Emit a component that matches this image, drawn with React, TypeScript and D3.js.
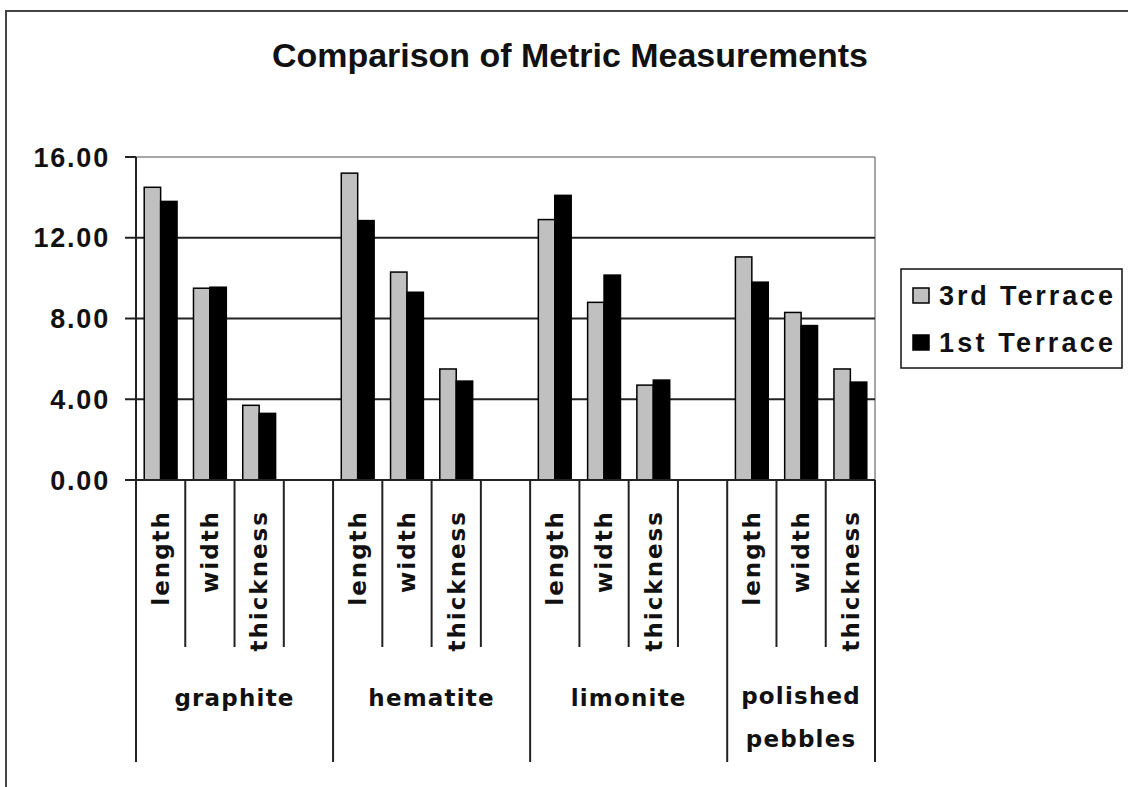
import React from "react";
import * as d3 from "d3";

const title = "Comparison of Metric Measurements";
const groups = ["graphite", "hematite", "limonite", "polished pebbles"];
const measures = ["length", "width", "thickness"];
const seriesNames = ["3rd Terrace", "1st Terrace"];
const thirdTerrace = [14.5, 9.5, 3.7, 15.2, 10.3, 5.5, 12.9, 8.8, 4.7, 11.05, 8.3, 5.5];
const firstTerrace = [13.8, 9.55, 3.3, 12.85, 9.3, 4.9, 14.1, 10.15, 4.95, 9.8, 7.65, 4.85];
const yTicks = [0, 4, 8, 12, 16];

const W = 1128;
const H = 787;
const plot = { left: 136, right: 875, top: 157, bottom: 480 };
const seriesColors = ["#c0c0c0", "#000000"];

// slot keys: each group has 3 measures + a blank slot (except last group)
const slots: { key: string; group: number; measure: number | null }[] = [];
groups.forEach((g, gi) => {
  measures.forEach((m, mi) => slots.push({ key: `${gi}-${mi}`, group: gi, measure: mi }));
  if (gi < groups.length - 1) slots.push({ key: `${gi}-blank`, group: gi, measure: null });
});

export default function App() {
  const x = d3
    .scaleBand<string>()
    .domain(slots.map((s) => s.key))
    .range([plot.left, plot.right])
    .paddingInner(0)
    .paddingOuter(0);
  const step = x.step();
  const inner = d3
    .scaleBand<string>()
    .domain(seriesNames)
    .range([0, step])
    .paddingInner(0)
    .paddingOuter(0.5);
  const y = d3.scaleLinear().domain([0, 16]).range([plot.bottom, plot.top]);

  const bars: { x: number; y: number; w: number; h: number; fill: string }[] = [];
  slots.forEach((s) => {
    if (s.measure === null) return;
    const idx = s.group * 3 + s.measure;
    [thirdTerrace, firstTerrace].forEach((arr, si) => {
      const v = arr[idx];
      bars.push({
        x: (x(s.key) as number) + (inner(seriesNames[si]) as number),
        y: y(v),
        w: inner.bandwidth(),
        h: y(0) - y(v),
        fill: seriesColors[si],
      });
    });
  });

  const groupEdges: number[] = [];
  const slotEdges: number[] = [];
  slots.forEach((s, i) => {
    const left = x(s.key) as number;
    if (i === 0) return;
    const prev = slots[i - 1];
    if (prev.group !== s.group) groupEdges.push(left);
    else slotEdges.push(left);
  });
  groupEdges.unshift(plot.left);
  groupEdges.push(plot.right);

  const groupCenters = groups.map((g, gi) => {
    const gs = slots.filter((s) => s.group === gi);
    const l = x(gs[0].key) as number;
    const r = (x(gs[gs.length - 1].key) as number) + step;
    return (l + r) / 2;
  });

  const arial = "'Liberation Sans', Arial, sans-serif";
  const dejavu = "'DejaVu Sans', Verdana, sans-serif";

  return (
    <svg
      width={W}
      height={H}
      style={{ position: "absolute", left: 0, top: 0, background: "#fff" }}
    >
      <rect x={0} y={0} width={W} height={H} fill="#fff" />
      <line x1={5} x2={W} y1={11} y2={11} stroke="#444" strokeWidth={2} />
      <line x1={6} x2={6} y1={11} y2={H} stroke="#444" strokeWidth={2} />

      <text
        x={272}
        y={67}
        fontFamily={arial}
        fontWeight="bold"
        fontSize={34}
        textLength={596}
        lengthAdjust="spacingAndGlyphs"
        fill="#111"
      >
        {title}
      </text>

      <line x1={plot.left} x2={plot.right} y1={plot.top} y2={plot.top} stroke="#888" strokeWidth={1.5} />
      <line x1={plot.right} x2={plot.right} y1={plot.top} y2={plot.bottom} stroke="#888" strokeWidth={1.5} />

      {yTicks
        .filter((t) => t > 0 && t < 16)
        .map((t) => (
          <line key={t} x1={plot.left} x2={plot.right} y1={y(t)} y2={y(t)} stroke="#222" strokeWidth={2} />
        ))}

      {bars.map((b, i) => (
        <rect key={i} x={b.x} y={b.y} width={b.w} height={b.h} fill={b.fill} stroke="#000" strokeWidth={1.5} />
      ))}

      <line x1={plot.left - 11} x2={plot.right} y1={plot.bottom} y2={plot.bottom} stroke="#222" strokeWidth={2} />
      <line x1={plot.left} x2={plot.left} y1={plot.top} y2={plot.bottom} stroke="#222" strokeWidth={2} />
      {yTicks.map((t) => (
        <g key={t}>
          <line x1={plot.left - 11} x2={plot.left} y1={y(t)} y2={y(t)} stroke="#222" strokeWidth={2} />
          <text
            x={110}
            y={y(t)}
            dy="0.36em"
            textAnchor="end"
            fontFamily={arial}
            fontWeight="bold"
            fontSize={27}
            fill="#111"
            style={{ letterSpacing: "1.8px" }}
          >
            {d3.format(".2f")(t)}
          </text>
        </g>
      ))}

      {slotEdges.map((e, i) => (
        <line key={"s" + i} x1={e} x2={e} y1={plot.bottom} y2={647} stroke="#222" strokeWidth={2} />
      ))}
      {groupEdges.map((e, i) => (
        <line key={"g" + i} x1={e} x2={e} y1={plot.bottom} y2={762} stroke="#222" strokeWidth={2} />
      ))}

      {slots
        .filter((s) => s.measure !== null)
        .map((s) => {
          const cx = (x(s.key) as number) + step / 2;
          return (
            <text
              key={"l" + s.key}
              transform={`translate(${cx},510) rotate(-90)`}
              dy="0.36em"
              textAnchor="end"
              fontFamily={dejavu}
              fontWeight="bold"
              fontSize={23}
              fill="#111"
              style={{ letterSpacing: "2px" }}
            >
              {measures[s.measure as number]}
            </text>
          );
        })}

      {groups.map((g, gi) => {
        const words = g.split(" ");
        if (words.length === 1) {
          return (
            <text
              key={g}
              x={groupCenters[gi]}
              y={706}
              textAnchor="middle"
              fontFamily={dejavu}
              fontWeight="bold"
              fontSize={23}
              fill="#111"
              style={{ letterSpacing: "1.2px" }}
            >
              {g}
            </text>
          );
        }
        return (
          <text
            key={g}
            textAnchor="middle"
            fontFamily={dejavu}
            fontWeight="bold"
            fontSize={23}
            fill="#111"
            style={{ letterSpacing: "1.2px" }}
          >
            {words.map((w, wi) => (
              <tspan key={w} x={groupCenters[gi]} y={704 + wi * 43}>
                {w}
              </tspan>
            ))}
          </text>
        );
      })}

      <rect x={901} y={269} width={221} height={99} fill="#fff" stroke="#111" strokeWidth={1.5} />
      {seriesNames.map((n, i) => (
        <g key={n}>
          <rect x={913} y={288 + i * 47} width={16} height={15} fill={seriesColors[i]} stroke="#000" strokeWidth={1.5} />
          <text
            x={939}
            y={295 + i * 47}
            dy="0.36em"
            fontFamily={arial}
            fontWeight="bold"
            fontSize={27}
            textLength={174}
            lengthAdjust="spacing"
            fill="#111"
          >
            {n}
          </text>
        </g>
      ))}
    </svg>
  );
}
